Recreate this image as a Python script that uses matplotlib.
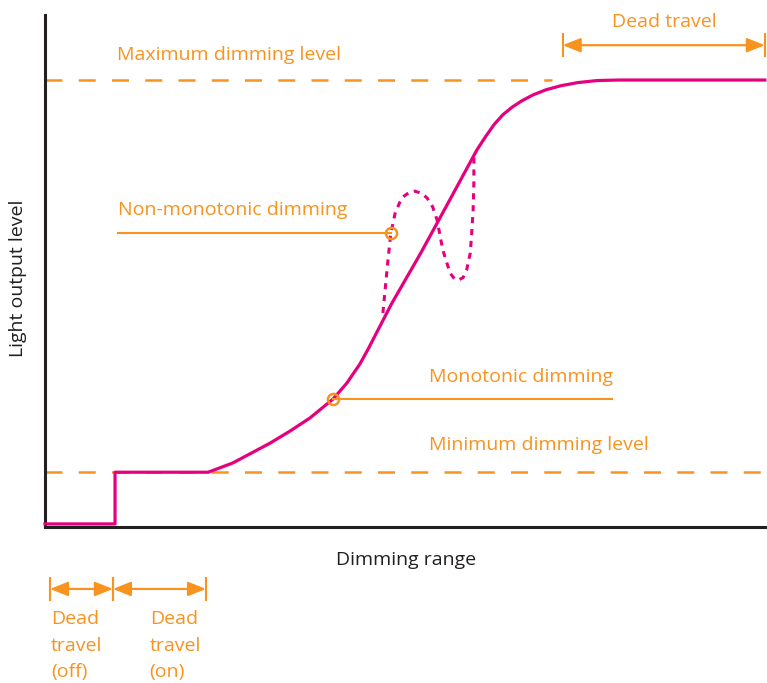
import matplotlib.pyplot as plt

# ------------------------------------------------------------
# Dados (eixos normalizados 0-100)
# ------------------------------------------------------------
curva_x = [0.0, 9.7, 9.7, 22.6, 24.3, 26.0, 28.4, 31.2, 33.9, 36.7, 39.9, 41.8,
           43.6, 44.7, 48.0, 52.0, 55.8, 59.8, 61.0, 62.2, 63.4, 64.7, 66.0,
           67.6, 69.4, 71.5, 73.8, 76.5, 79.5, 99.7]
curva_y = [0.6, 0.6, 10.7, 10.7, 11.6, 12.5, 14.3, 16.4, 18.7, 21.3, 25.0, 28.1,
           31.8, 34.6, 43.6, 53.4, 63.2, 73.6, 76.2, 78.6, 80.5, 82.0, 83.2,
           84.4, 85.4, 86.2, 86.8, 87.2, 87.3, 87.3]

nao_mono_x = [46.8, 47.5, 47.9, 48.5, 49.1, 49.6, 50.4, 51.2, 52.1, 52.9, 53.7,
              54.3, 55.1, 56.1, 56.7, 57.2, 57.9, 58.4, 58.9, 59.1, 59.3, 59.4, 59.4]
nao_mono_y = [41.8, 52.1, 57.4, 61.3, 63.3, 64.5, 65.3, 65.6, 65.2, 64.3, 62.5,
              60.0, 54.1, 49.6, 48.5, 48.2, 48.7, 50.2, 53.5, 57.4, 62.0, 67.2, 72.3]

nivel_max = 87.3
nivel_min = 10.7
fim_max_tracejado = 70.2

ponto_nao_mono = (47.9, 57.4)
ponto_mono = (39.9, 25.0)
inicio_guia_nao_mono = 10.1
fim_guia_mono = 78.5

curso_morto_topo = (71.7, 99.7)
curso_morto_off = (0.7, 9.4)
curso_morto_on = (9.4, 22.3)

LARANJA = "#F7931E"
ROSA = "#E6007E"
ESCURO = "#231F20"
FONTE = "Open Sans"
TAM = 14

fig = plt.figure(figsize=(7.67, 6.83), dpi=100)
ax = fig.add_axes([45 / 767, 156 / 683, 722 / 767, 512 / 683])
ax.set_xlim(0, 100)
ax.set_ylim(0, 100)
ax.set_xticks([]); ax.set_yticks([])
for lado in ["top", "right"]:
    ax.spines[lado].set_visible(False)
for lado in ["left", "bottom"]:
    ax.spines[lado].set_linewidth(2.2)
    ax.spines[lado].set_color(ESCURO)

# linhas de nivel
ax.plot([0, fim_max_tracejado], [nivel_max, nivel_max], color=LARANJA, lw=1.8,
        dashes=(6.8, 6.5), zorder=2)
ax.plot([0, 100], [nivel_min, nivel_min], color=LARANJA, lw=1.8,
        dashes=(6.8, 6.5), zorder=2)

# curvas
ax.plot(curva_x, curva_y, color=ROSA, lw=2.3, zorder=3, clip_on=False,
        solid_joinstyle="round")
ax.plot(nao_mono_x, nao_mono_y, color=ROSA, lw=2.2, dashes=(2.0, 1.9), zorder=3)

# guias
ax.plot([inicio_guia_nao_mono, ponto_nao_mono[0]], [ponto_nao_mono[1]] * 2,
        color=LARANJA, lw=1.5, zorder=4)
ax.plot([ponto_mono[0], fim_guia_mono], [ponto_mono[1]] * 2,
        color=LARANJA, lw=1.5, zorder=4)
for p in [ponto_nao_mono, ponto_mono]:
    ax.plot(*p, "o", ms=8, mfc="none", mec=LARANJA, mew=1.8, zorder=5)

# textos
txt = dict(color=LARANJA, fontsize=TAM, family=FONTE)
ax.text(10.0, 91.2, "Maximum dimming level", va="baseline", **txt)
ax.text(85.8, 97.6, "Dead travel", ha="center", va="baseline", **txt)
ax.text(10.1, 60.9, "Non-monotonic dimming", va="baseline", **txt)
ax.text(53.2, 28.3, "Monotonic dimming", va="baseline", **txt)
ax.text(53.2, 15.0, "Minimum dimming level", va="baseline", **txt)
ax.text(50.0, -7.4, "Dimming range", ha="center", va="baseline",
        color=ESCURO, fontsize=TAM, family=FONTE, clip_on=False)
ax.text(-3.7, 48.6, "Light output level", ha="center", va="center", rotation=90,
        color=ESCURO, fontsize=TAM, family=FONTE, clip_on=False)
ax.text(0.8, -16.3, "Dead\ntravel\n(off)", va="top", linespacing=1.6, **txt)
ax.text(14.5, -16.3, "Dead\ntravel\n(on)", va="top", linespacing=1.6, **txt)

# setas de curso morto
def seta(x0, x1, y, dy):
    ax.annotate("", xy=(x1, y), xytext=(x0, y),
                arrowprops=dict(arrowstyle="<|-|>,head_length=0.9,head_width=0.36",
                                color=LARANJA, lw=1.6, mutation_scale=12,
                                shrinkA=0, shrinkB=0),
                annotation_clip=False)
    for xx in (x0, x1):
        ax.plot([xx, xx], [y - dy, y + dy], color=LARANJA, lw=1.5, clip_on=False)

seta(curso_morto_topo[0], curso_morto_topo[1], 94.1, 2.1)
seta(curso_morto_off[0], curso_morto_off[1], -12.1, 2.1)
seta(curso_morto_on[0], curso_morto_on[1], -12.1, 2.1)

fig.savefig("out.png", dpi=100)
